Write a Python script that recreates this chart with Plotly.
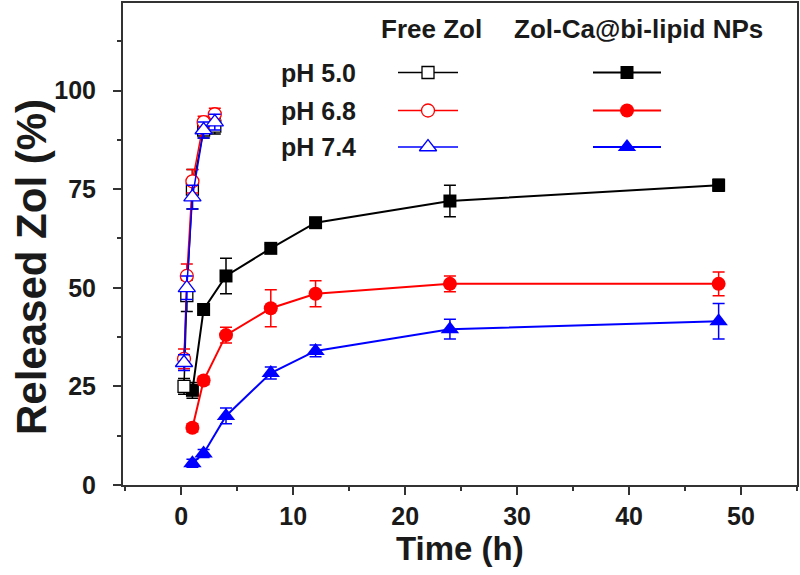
import plotly.graph_objects as go

# ---------------- data ----------------
free_time = [0.25, 0.5, 1, 2, 3]
free_ph50 = [25, 48, 75, 90, 91]
free_ph50_err = [2, 4, 5, 2, 2]
free_ph68 = [32, 53, 77, 92, 94]
free_ph68_err = [2.5, 3, 3, 1.5, 1.5]
free_ph74 = [31, 50, 73, 90, 92]
free_ph74_err = [2, 3, 3, 2, 2]

np_time = [1, 2, 4, 8, 12, 24, 48]
np_ph50 = [24, 44.5, 53, 60, 66.5, 72, 76]
np_ph50_err = [2, 1, 4.5, 1, 1, 4, 1.5]
np_ph68 = [14.5, 26.5, 38, 44.8, 48.5, 51, 51]
np_ph68_err = [1, 1, 2, 4.7, 3.3, 2, 3]
np_ph74 = [5.5, 8, 17.5, 28.4, 34, 39.5, 41.5]
np_ph74_err = [1, 1, 2, 1.5, 1.5, 2.5, 4.5]

x_ticks = [0, 10, 20, 30, 40, 50]
y_ticks = [0, 25, 50, 75, 100]
ph_labels = ["pH 5.0", "pH 6.8", "pH 7.4"]
header_labels = ["Free Zol", "Zol-Ca@bi-lipid NPs"]
x_title = "Time (h)"
y_title = "Released Zol (%)"

colors = ["#000000", "#FF0000", "#0000FF"]
symbols = ["square", "circle", "triangle-up"]
msize = [13, 14, 16]
FONT = "Liberation Sans, Arial, sans-serif"
TXT = "#1a1a1a"

# plot area in pixels
L, R, T, B = 123, 797, 3, 485
W, H = 800, 575

fig = go.Figure()

np_sets = [(np_ph50, np_ph50_err), (np_ph68, np_ph68_err), (np_ph74, np_ph74_err)]
free_sets = [(free_ph50, free_ph50_err), (free_ph68, free_ph68_err),
             (free_ph74, free_ph74_err)]

for i, (y, e) in enumerate(np_sets):
    fig.add_trace(go.Scatter(
        x=np_time, y=y, mode="lines+markers",
        line=dict(color=colors[i], width=2),
        marker=dict(symbol=symbols[i], size=msize[i], color=colors[i]),
        error_y=dict(type="data", array=e, color=colors[i], thickness=1.5, width=6),
        showlegend=False))

for i, (y, e) in enumerate(free_sets):
    fig.add_trace(go.Scatter(
        x=free_time, y=y, mode="lines+markers",
        line=dict(color=colors[i], width=1.5),
        marker=dict(symbol=symbols[i], size=msize[i] - 1, color="white",
                    line=dict(color=colors[i], width=1.3)),
        error_y=dict(type="data", array=e, color=colors[i], thickness=1.5, width=6),
        showlegend=False))

# ---------------- custom legend (pixel overlay axes) ----------------
leg_rows_y = [72.5, 110.5, 147]
for i in range(3):
    for cx, half, filled in [(428, 30, False), (627, 34, True)]:
        fig.add_trace(go.Scatter(
            x=[cx - half, cx + half], y=[leg_rows_y[i], leg_rows_y[i]],
            mode="lines", line=dict(color=colors[i], width=2 if filled else 1.5),
            xaxis="x2", yaxis="y2", showlegend=False, hoverinfo="skip"))
        fig.add_trace(go.Scatter(
            x=[cx], y=[leg_rows_y[i]], mode="markers",
            marker=dict(symbol=symbols[i], size=msize[i] - (0 if filled else 1),
                        color=colors[i] if filled else "white",
                        line=dict(color=colors[i], width=0 if filled else 1.3)),
            xaxis="x2", yaxis="y2", showlegend=False, hoverinfo="skip"))
    fig.add_annotation(x=358, y=leg_rows_y[i], xref="x2", yref="y2",
                       text="<b>%s</b>" % ph_labels[i], showarrow=False,
                       xanchor="right", yanchor="middle",
                       font=dict(family=FONT, size=25, color=TXT))

for cx, lab in zip([431, 638], header_labels):
    fig.add_annotation(x=cx, y=29, xref="x2", yref="y2", text="<b>%s</b>" % lab,
                       showarrow=False, xanchor="center", yanchor="middle",
                       font=dict(family=FONT, size=26, color=TXT))

# axis titles as annotations (paper coords)
fig.add_annotation(x=(460 - L) / (R - L), y=(B - 548) / (B - T), xref="paper", yref="paper",
                   text="<b>%s</b>" % x_title, showarrow=False,
                   xanchor="center", yanchor="middle",
                   font=dict(family=FONT, size=33, color=TXT))
fig.add_annotation(x=(31 - L) / (R - L), y=(B - 267) / (B - T), xref="paper", yref="paper",
                   text="<b>%s</b>" % y_title, showarrow=False, textangle=-90,
                   xanchor="center", yanchor="middle",
                   font=dict(family=FONT, size=42, color=TXT))

axis_common = dict(
    showline=True, linecolor="#333333", linewidth=2, mirror=True,
    ticks="outside", ticklen=8, tickwidth=2, tickcolor="#333333",
    showgrid=False, zeroline=False, automargin=False,
    tickfont=dict(family=FONT, size=25, color=TXT),
)

fig.update_layout(
    width=W, height=H,
    margin=dict(l=L, r=W - R, t=T, b=H - B),
    paper_bgcolor="white", plot_bgcolor="white",
    xaxis=dict(range=[-5.2, 55], tickvals=x_ticks,
               ticktext=["<b>%d</b>" % v for v in x_ticks],
               minor=dict(ticks="outside", ticklen=4, tickwidth=2, tickcolor="#333333",
                          dtick=5, tick0=0),
               ticklabelstandoff=0,
               **axis_common),
    yaxis=dict(range=[0, 122.2], tickvals=y_ticks,
               ticktext=["<b>%d</b>" % v for v in y_ticks],
               minor=dict(ticks="outside", ticklen=4, tickwidth=2, tickcolor="#333333",
                          dtick=12.5, tick0=0),
               ticklabelstandoff=12,
               **axis_common),
    xaxis2=dict(overlaying="x", range=[L, R], visible=False, fixedrange=True),
    yaxis2=dict(overlaying="y", range=[B, T], visible=False, fixedrange=True),
)

fig.write_html("out.html", config={"displayModeBar": False},
               post_script="document.body.style.margin='0';")
